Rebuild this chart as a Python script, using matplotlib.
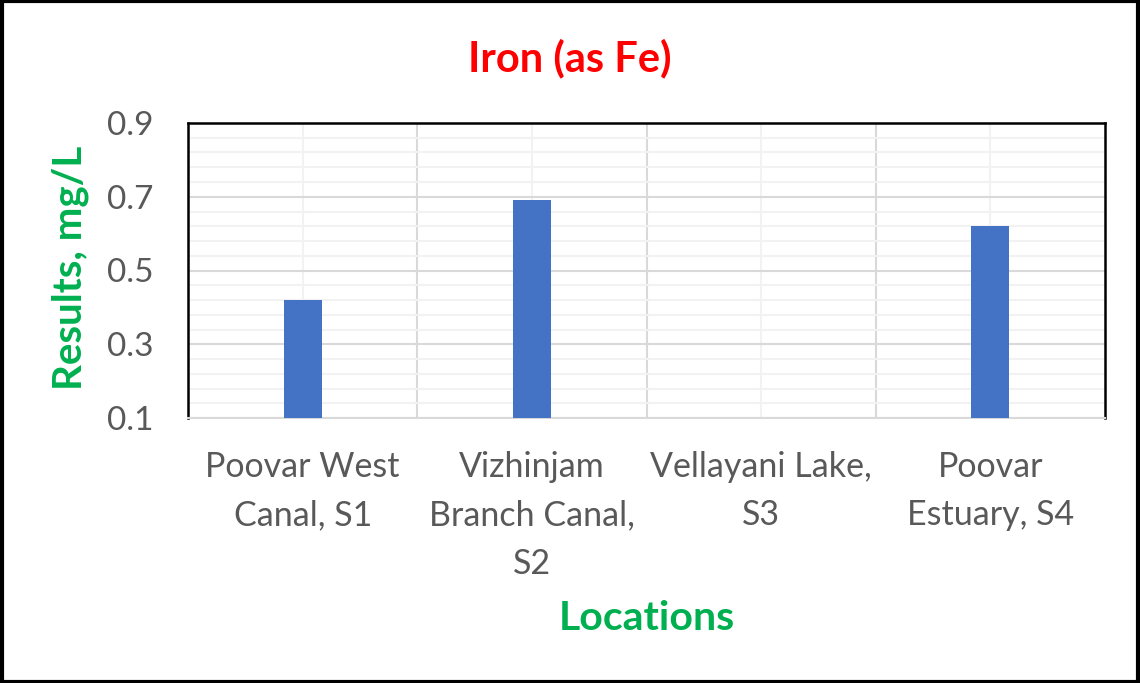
import numpy as np
import matplotlib
matplotlib.use('Agg')
import matplotlib.pyplot as plt
from matplotlib.patches import Rectangle
from matplotlib.ticker import FixedLocator

plt.rcParams['font.family'] = ['Lato', 'DejaVu Sans']

locations = ['Poovar West\nCanal, S1',
             'Vizhinjam\nBranch Canal,\nS2',
             'Vellayani Lake,\nS3',
             'Poovar\nEstuary, S4']
# iron in mg/L; S3 has no bar above the axis floor
iron = [0.42, 0.69, np.nan, 0.62]
y_ticks = [0.1, 0.3, 0.5, 0.7, 0.9]

grey_text = '#595959'
green = '#00B050'

fig = plt.figure(figsize=(11.4, 6.83), dpi=100)
ax = fig.add_axes([188/1140, 1 - 418/683, (1105 - 188)/1140, (418 - 123)/683])

x = np.arange(len(locations))
ax.bar(x, iron, width=0.166, color='#4472C4', zorder=3)

ax.set_xlim(-0.5, len(locations) - 0.5)
ax.set_ylim(0.1, 0.9)
ax.yaxis.set_major_locator(FixedLocator(y_ticks))
ax.yaxis.set_minor_locator(FixedLocator(np.arange(0.1, 0.901, 0.04)))
ax.xaxis.set_major_locator(FixedLocator(x))
ax.xaxis.set_minor_locator(FixedLocator(x[:-1] + 0.5))

ax.grid(which='minor', axis='y', color='#f2f2f2', lw=1.5, zorder=0)
ax.grid(which='major', axis='y', color='#d9d9d9', lw=1.5, zorder=1)
ax.grid(which='major', axis='x', color='#f2f2f2', lw=1.5, zorder=0)
ax.grid(which='minor', axis='x', color='#d9d9d9', lw=1.5, zorder=1)

ax.set_xticklabels(locations, fontsize=24.5, color=grey_text, linespacing=1.62,
                   va='top')
ax.set_yticklabels([f'{v:.1f}' for v in y_ticks], fontsize=24, color=grey_text)
ax.tick_params(which='both', length=0)
ax.tick_params(axis='y', pad=25)
ax.tick_params(axis='x', pad=24)

for side in ['left', 'top', 'right']:
    ax.spines[side].set_color('black')
    ax.spines[side].set_linewidth(1.8)
ax.spines['bottom'].set_color('#d9d9d9')
ax.spines['bottom'].set_linewidth(1.5)

fig.text(570/1140, 1 - 58/683, 'Iron (as Fe)', color='red', fontsize=30,
         fontweight='bold', ha='center', va='center')
fig.text(70/1140, 1 - 268/683, 'Results, mg/L', color=green, fontsize=29,
         fontweight='bold', rotation=90, ha='center', va='center')
fig.text(647/1140, 1 - 618/683, 'Locations', color=green, fontsize=29.5,
         fontweight='bold', ha='center', va='center')

# outer frame
fig.patches.append(Rectangle((0.0015, 0.002), 0.997, 0.996, transform=fig.transFigure,
                             fill=False, edgecolor='black', lw=3))

fig.savefig('out.png', dpi=100)
